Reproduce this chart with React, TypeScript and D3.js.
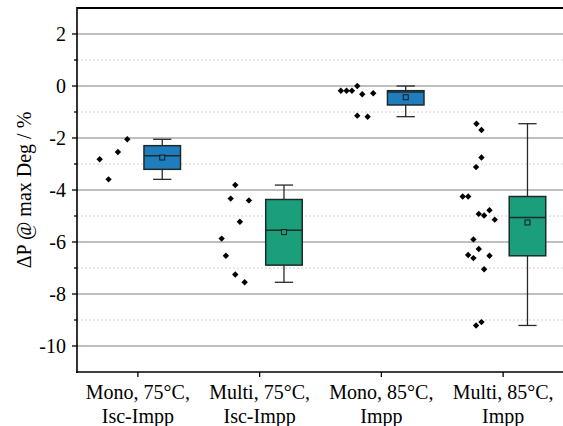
import React from "react";
import * as d3 from "d3";

// Categories (two-line axis labels)
const categories: string[][] = [
  ["Mono, 75°C,", "Isc-Impp"],
  ["Multi, 75°C,", "Isc-Impp"],
  ["Mono, 85°C,", "Impp"],
  ["Multi, 85°C,", "Impp"],
];

// ΔP at max degradation (%) for each module group
const monoIsc75: number[] = [-2.82, -3.59, -2.54, -2.05];
const multiIsc75: number[] = [-3.81, -4.33, -4.40, -5.22, -5.87, -6.53, -7.25, -7.55];
const monoImpp85: number[] = [-0.18, -0.18, -0.18, 0.0, -0.32, -0.28, -1.14, -1.18];
const multiImpp85: number[] = [
  -1.45, -1.69, -2.75, -3.12, -4.25, -4.25, -4.92, -4.98, -4.78, -5.14,
  -5.9, -6.27, -6.5, -6.62, -6.53, -7.05, -9.21, -9.08,
];

// Horizontal spread of the individual points (category units, left of the tick)
const monoIsc75Jitter: number[] = [-0.314, -0.241, -0.164, -0.087];
const multiIsc75Jitter: number[] = [-0.2, -0.238, -0.088, -0.162, -0.312, -0.277, -0.2, -0.123];
const monoImpp85Jitter: number[] = [-0.333, -0.286, -0.242, -0.198, -0.157, -0.067, -0.198, -0.113];
const multiImpp85Jitter: number[] = [
  -0.219, -0.178, -0.178, -0.222, -0.332, -0.287, -0.2, -0.156, -0.112, -0.069,
  -0.244, -0.2, -0.287, -0.244, -0.112, -0.156, -0.222, -0.178,
];

const groups = [monoIsc75, multiIsc75, monoImpp85, multiImpp85];
const jitters = [monoIsc75Jitter, multiIsc75Jitter, monoImpp85Jitter, multiImpp85Jitter];
const boxColors = ["#1f7dbe", "#1b9e7a", "#1f7dbe", "#1b9e7a"];

const majorTicks: number[] = [2, 0, -2, -4, -6, -8, -10];
const minorTicks: number[] = [1, -1, -3, -5, -7, -9];

const W = 563;
const H = 426;
const left = 77;
const top = 8;
const bottom = 372;
const right = 564;
const font = "'Liberation Serif', 'Times New Roman', serif";
const fs = 20;

const x = d3.scaleLinear().domain([0.5, 4.5]).range([left, right]);
const y = d3.scaleLinear().domain([-11, 3]).range([bottom, top]);

// Tukey hinges, median, mean and min/max whiskers
function stats(values: number[]) {
  const s = [...values].sort(d3.ascending);
  const n = s.length;
  const lower = s.slice(0, Math.ceil(n / 2));
  const upper = s.slice(Math.floor(n / 2));
  return {
    min: d3.min(s) as number,
    max: d3.max(s) as number,
    q1: d3.median(lower) as number,
    q3: d3.median(upper) as number,
    median: d3.median(s) as number,
    mean: d3.mean(s) as number,
  };
}

const boxOffset = 0.2;
const boxWidth = 0.3;

export default function App() {
  const bw = x(1 + boxWidth) - x(1);
  const diamond = (cx: number, cy: number, r: number) =>
    `M${cx},${cy - r}L${cx + r},${cy}L${cx},${cy + r}L${cx - r},${cy}Z`;

  return (
    <svg
      width={W}
      height={H}
      style={{ position: "absolute", left: 0, top: 0, background: "#fff" }}
      fontFamily={font}
    >
      {/* grid */}
      {minorTicks.map((t) => (
        <line key={"mg" + t} x1={left} x2={right} y1={y(t)} y2={y(t)}
          stroke="#d2d2d2" strokeWidth={1} strokeDasharray="2,2" />
      ))}
      {majorTicks.map((t) => (
        <line key={"g" + t} x1={left} x2={right} y1={y(t)} y2={y(t)}
          stroke="#808080" strokeWidth={1.2} />
      ))}

      {/* boxes */}
      {groups.map((g, i) => {
        const s = stats(g);
        const cx = x(i + 1 + boxOffset);
        const col = boxColors[i];
        return (
          <g key={"b" + i}>
            <line x1={cx} x2={cx} y1={y(s.max)} y2={y(s.min)} stroke="#2a2a2a" strokeWidth={1.3} />
            <line x1={cx - bw / 4} x2={cx + bw / 4} y1={y(s.max)} y2={y(s.max)} stroke="#2a2a2a" strokeWidth={1.3} />
            <line x1={cx - bw / 4} x2={cx + bw / 4} y1={y(s.min)} y2={y(s.min)} stroke="#2a2a2a" strokeWidth={1.3} />
            <rect x={cx - bw / 2} y={y(s.q3)} width={bw} height={y(s.q1) - y(s.q3)}
              fill={col} stroke="#1c2a2a" strokeWidth={1.5} />
            <line x1={cx - bw / 2} x2={cx + bw / 2} y1={y(s.median)} y2={y(s.median)}
              stroke="#1c2a2a" strokeWidth={1.5} />
            <rect x={cx - 2.5} y={y(s.mean) - 2.5} width={5} height={5}
              fill={col} stroke="#1a1a1a" strokeWidth={1} />
          </g>
        );
      })}

      {/* individual points */}
      {groups.map((g, i) =>
        g.map((v, j) => (
          <path key={`p${i}-${j}`} d={diamond(x(i + 1 + jitters[i][j]), y(v), 3.2)} fill="#000" />
        ))
      )}

      {/* frame */}
      <line x1={left} x2={right} y1={top} y2={top} stroke="#000" strokeWidth={2} />
      <line x1={left} x2={left} y1={top - 1} y2={bottom + 1} stroke="#000" strokeWidth={1.6} />
      <line x1={left - 1} x2={right} y1={bottom} y2={bottom} stroke="#000" strokeWidth={1.6} />

      {/* y ticks */}
      {majorTicks.map((t) => (
        <g key={"yt" + t}>
          <line x1={left - 5} x2={left} y1={y(t)} y2={y(t)} stroke="#000" strokeWidth={1.3} />
          <text x={66} y={y(t)} dy="0.35em" textAnchor="end" fontSize={fs} fill="#000">
            {t}
          </text>
        </g>
      ))}
      {minorTicks.map((t) => (
        <line key={"ymt" + t} x1={left - 3} x2={left} y1={y(t)} y2={y(t)} stroke="#000" strokeWidth={1.3} />
      ))}

      {/* x ticks and labels */}
      {categories.map((c, i) => (
        <g key={"xt" + i}>
          <line x1={x(i + 1)} x2={x(i + 1)} y1={bottom} y2={bottom + 5} stroke="#000" strokeWidth={1.3} />
          <text x={x(i + 1)} y={399} textAnchor="middle" fontSize={fs} fill="#000">{c[0]}</text>
          <text x={x(i + 1)} y={423} textAnchor="middle" fontSize={fs} fill="#000">{c[1]}</text>
        </g>
      ))}

      {/* y axis title */}
      <text transform={`translate(31,${(top + bottom) / 2}) rotate(-90)`} textAnchor="middle"
        fontSize={fs} fill="#000">
        ΔP @ max Deg / %
      </text>
    </svg>
  );
}
